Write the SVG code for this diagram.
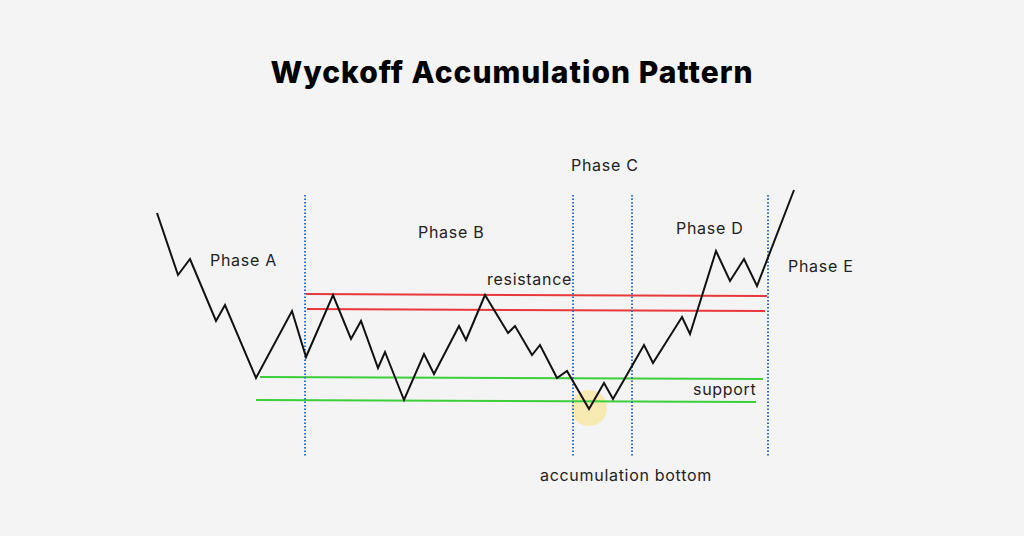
<svg xmlns="http://www.w3.org/2000/svg" width="1024" height="536" viewBox="0 0 1024 536">
<style>
.t{font-family:Inter,"Noto Sans",sans-serif;font-size:16px;letter-spacing:0.7px;fill:#222}
.v{stroke:#2f6fd0;stroke-width:2;stroke-dasharray:1.5 2}
.r{stroke:#e8383a;stroke-width:2}
.g{stroke:#3ccf3a;stroke-width:2}
</style>
<rect width="1024" height="536" fill="#f4f4f4"/>
<text x="512" y="83" text-anchor="middle" style="font-family:Inter,'Noto Sans',sans-serif;font-size:30px;font-weight:800;letter-spacing:1px;fill:#000">Wyckoff Accumulation Pattern</text>
<g id="connectors">
<circle cx="589" cy="408" r="18" fill="#f6e8a6" opacity="0.85"/>
<line class="r" x1="306" y1="294" x2="767" y2="296"/>
<line class="r" x1="307" y1="309" x2="765" y2="311"/>
<line class="g" x1="260" y1="377" x2="763" y2="379"/>
<line class="g" x1="256" y1="400" x2="756" y2="402"/>
<line class="v" x1="305" y1="195" x2="305" y2="457"/>
<line class="v" x1="573" y1="195" x2="573" y2="457"/>
<line class="v" x1="632" y1="195" x2="632" y2="457"/>
<line class="v" x1="768" y1="195" x2="768" y2="457"/>
<polyline fill="none" stroke="#111" stroke-width="2" points="157,213 178,275 190,259 216,321 225,305 256,378 292,311 306,357 333,295 351,339 361,321 378,368 385,352 404,400 424,354 434,374 459,326 466,340 485,295 508,333 515,326 532,355 540,345 557,378 567,371 589,409 604,383 613,399 644,345 653,363 682,317 690,334 716,251 730,281 744,259 757,286 794,190"/>
</g>
<g id="phaseA"><text class="t" x="210" y="266">Phase A</text></g>
<g id="phaseB"><text class="t" x="418" y="238">Phase B</text></g>
<g id="phaseC"><text class="t" x="571" y="171">Phase C</text></g>
<g id="phaseD"><text class="t" x="676" y="234">Phase D</text></g>
<g id="phaseE"><text class="t" x="788" y="272">Phase E</text></g>
<g id="resistance"><text class="t" x="487" y="285">resistance</text></g>
<g id="support"><text class="t" x="693" y="395">support</text></g>
<g id="bottom"><text class="t" x="540" y="481">accumulation bottom</text></g>
</svg>
